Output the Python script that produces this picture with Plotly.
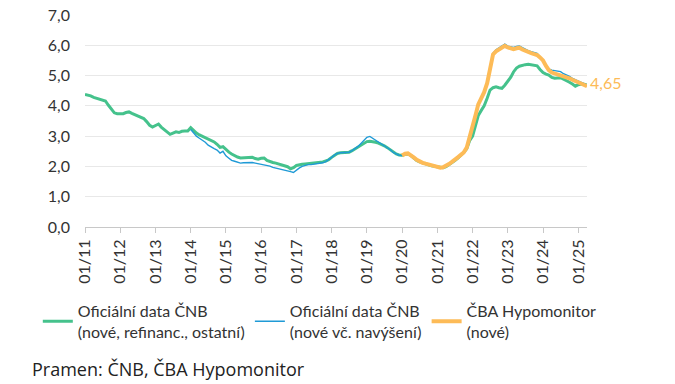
import pandas as pd
import plotly.graph_objects as go

# Monthly categories Jan 2011 .. Apr 2025
months = pd.date_range("2011-01-01", "2025-04-01", freq="MS")

# Oficiální data ČNB (nové, refinanc., ostatní)  Jan 2011 .. Apr 2025
cnb_all = [
    4.38, 4.36, 4.33, 4.28, 4.25, 4.21, 4.19, 4.16, 4.02, 3.88, 3.77, 3.74,   # 2011
    3.73, 3.74, 3.78, 3.80, 3.75, 3.71, 3.66, 3.62, 3.58, 3.48, 3.36, 3.30,   # 2012
    3.36, 3.40, 3.30, 3.22, 3.14, 3.06, 3.10, 3.14, 3.12, 3.16, 3.17, 3.17,   # 2013
    3.28, 3.18, 3.10, 3.04, 2.99, 2.95, 2.90, 2.85, 2.81, 2.73, 2.63, 2.65,   # 2014
    2.55, 2.47, 2.41, 2.35, 2.31, 2.28, 2.29, 2.30, 2.31, 2.30, 2.26, 2.24,   # 2015
    2.27, 2.28, 2.20, 2.16, 2.13, 2.11, 2.08, 2.05, 2.02, 1.99, 1.92, 1.96,   # 2016
    2.03, 2.06, 2.07, 2.08, 2.09, 2.10, 2.10, 2.11, 2.13, 2.15, 2.18, 2.22,   # 2017
    2.30, 2.38, 2.43, 2.45, 2.45, 2.46, 2.47, 2.52, 2.58, 2.64, 2.71, 2.78,   # 2018
    2.82, 2.83, 2.82, 2.80, 2.77, 2.73, 2.68, 2.62, 2.55, 2.46, 2.41, 2.38,   # 2019
    2.37, 2.40, 2.41, 2.36, 2.28, 2.20, 2.15, 2.11, 2.08, 2.05, 2.02, 2.00,   # 2020
    1.98, 1.96, 1.96, 1.99, 2.05, 2.12, 2.19, 2.27, 2.36, 2.46, 2.58, 2.85,   # 2021
    3.00, 3.35, 3.68, 3.85, 4.00, 4.25, 4.52, 4.60, 4.63, 4.60, 4.58, 4.68,   # 2022
    4.82, 4.95, 5.12, 5.25, 5.31, 5.34, 5.36, 5.37, 5.35, 5.33, 5.32, 5.20,   # 2023
    5.10, 5.05, 5.02, 4.94, 4.91, 4.92, 4.93, 4.88, 4.84, 4.78, 4.72, 4.65,   # 2024
    4.70, 4.72, 4.71, 4.69,                                                   # 2025
]

# Oficiální data ČNB (nové vč. navýšení)  Jan 2014 .. Apr 2025
cnb_new = [
    3.22, 3.10, 3.00, 2.93, 2.88, 2.80, 2.70, 2.63, 2.59, 2.54, 2.44, 2.50,   # 2014
    2.35, 2.27, 2.20, 2.17, 2.14, 2.11, 2.12, 2.13, 2.14, 2.13, 2.11, 2.09,   # 2015
    2.08, 2.06, 2.04, 2.01, 1.97, 1.95, 1.93, 1.91, 1.89, 1.87, 1.83, 1.80,   # 2016
    1.88, 1.95, 2.00, 2.04, 2.06, 2.06, 2.07, 2.08, 2.09, 2.12, 2.16, 2.22,   # 2017
    2.30, 2.38, 2.43, 2.45, 2.45, 2.46, 2.47, 2.52, 2.58, 2.66, 2.76, 2.86,   # 2018
    2.96, 2.99, 2.93, 2.87, 2.81, 2.74, 2.68, 2.62, 2.55, 2.46, 2.40, 2.37,   # 2019
    2.36, 2.42, 2.43, 2.38, 2.30, 2.22, 2.16, 2.12, 2.09, 2.06, 2.03, 2.00,   # 2020
    1.98, 1.96, 1.97, 2.01, 2.08, 2.15, 2.21, 2.30, 2.38, 2.46, 2.62, 2.95,   # 2021
    3.25, 3.70, 4.05, 4.25, 4.45, 4.75, 5.25, 5.74, 5.85, 5.92, 5.98, 6.04,   # 2022
    5.97, 5.94, 5.93, 5.96, 5.98, 5.92, 5.86, 5.82, 5.79, 5.76, 5.73, 5.62,   # 2023
    5.50, 5.33, 5.22, 5.18, 5.17, 5.15, 5.13, 5.06, 5.02, 4.97, 4.91, 4.86,   # 2024
    4.82, 4.77, 4.73, 4.69,                                                   # 2025
]

# ČBA Hypomonitor (nové)  Jan 2020 .. Apr 2025
cba = [
    2.36, 2.42, 2.43, 2.38, 2.30, 2.22, 2.16, 2.12, 2.09, 2.06, 2.03, 2.00,   # 2020
    1.98, 1.96, 1.97, 2.01, 2.08, 2.15, 2.21, 2.30, 2.38, 2.46, 2.62, 2.95,   # 2021
    3.25, 3.70, 4.05, 4.25, 4.45, 4.75, 5.25, 5.70, 5.80, 5.85, 5.92, 5.98,   # 2022
    5.93, 5.90, 5.87, 5.90, 5.92, 5.86, 5.81, 5.77, 5.74, 5.71, 5.68, 5.60,   # 2023
    5.50, 5.32, 5.18, 5.10, 5.07, 5.05, 5.03, 4.99, 4.94, 4.91, 4.86, 4.82,   # 2024
    4.76, 4.72, 4.68, 4.65,                                                   # 2025
]

names = [
    "Oficiální data ČNB<br>(nové, refinanc., ostatní)",
    "Oficiální data ČNB<br>(nové vč. navýšení)",
    "ČBA Hypomonitor<br>(nové)",
]
last_label = "4,65"
source_text = "Pramen: ČNB, ČBA Hypomonitor"

GREEN = "#45c28c"
BLUE = "#1f9ad6"
ORANGE = "#fdbb57"

x_all = list(months)
x_new = x_all[len(x_all) - len(cnb_new):]
x_cba = x_all[len(x_all) - len(cba):]

fig = go.Figure()
fig.add_trace(go.Scatter(x=x_all, y=cnb_all, mode="lines", name=names[0],
                         line=dict(color=GREEN, width=3)))
fig.add_trace(go.Scatter(x=x_new, y=cnb_new, mode="lines", name=names[1],
                         line=dict(color=BLUE, width=1.4)))
fig.add_trace(go.Scatter(x=x_cba, y=cba, mode="lines", name=names[2],
                         line=dict(color=ORANGE, width=4)))

fig.add_annotation(x=x_cba[-1], y=cba[-1], text=last_label, showarrow=False,
                   xanchor="left", yanchor="middle", xshift=1, yshift=4,
                   font=dict(family="Lato", size=16, color=ORANGE))
fig.add_annotation(xref="paper", yref="paper", x=-0.11, y=-0.672,
                   text=source_text, showarrow=False, xanchor="left", yanchor="middle",
                   font=dict(family="Open Sans", size=18, color="#222222"))

tickvals = [d for d in months if d.month == 1]

fig.update_layout(
    width=675, height=384,
    margin=dict(l=77, r=96, t=7, b=164.5, autoexpand=False),
    paper_bgcolor="white", plot_bgcolor="white",
    separators=", ",
    font=dict(family="Lato", size=16, color="#333333"),
    showlegend=True,
    legend=dict(orientation="h", x=-0.094, xanchor="left", y=-0.316, yanchor="top",
                font=dict(family="Lato", size=16, color="#333333"),
                bgcolor="rgba(0,0,0,0)", traceorder="normal"),
)
fig.update_xaxes(
    type="date", range=[months[0], months[-1]],
    tickvals=tickvals, tickformat="%m/%y", tickangle=-90,
    ticks="outside", ticklen=5, tickcolor="#c8c8c8",
    showline=True, linecolor="#c8c8c8", linewidth=1,
    showgrid=False, zeroline=False,
    tickfont=dict(family="Lato", size=16, color="#333333"),
)
fig.update_yaxes(
    range=[0, 7], dtick=1, tickformat=".1f",
    showgrid=True, gridcolor="#e8e8e8", gridwidth=1,
    zeroline=False, showline=False, ticks="",
    ticklabelstandoff=14, ticklabeloverflow="allow",
    tickfont=dict(family="Lato", size=16, color="#333333"),
)

fig.write_html("out.html")
